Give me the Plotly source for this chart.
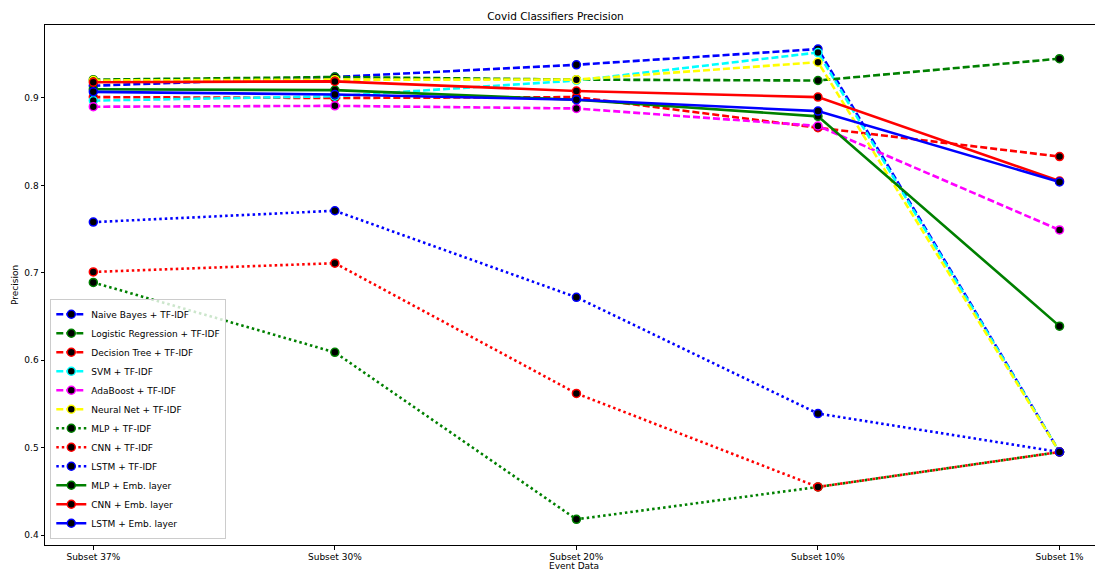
import plotly.graph_objects as go

categories = ["Subset 37%", "Subset 30%", "Subset 20%", "Subset 10%", "Subset 1%"]

naive_bayes_tfidf = [0.914, 0.924, 0.938, 0.956, 0.495]
logreg_tfidf = [0.921, 0.924, 0.921, 0.920, 0.945]
dtree_tfidf = [0.901, 0.900, 0.901, 0.866, 0.833]
svm_tfidf = [0.897, 0.902, 0.920, 0.952, 0.495]
adaboost_tfidf = [0.890, 0.891, 0.888, 0.868, 0.749]
neuralnet_tfidf = [0.920, 0.921, 0.921, 0.941, 0.495]
mlp_tfidf = [0.689, 0.609, 0.418, 0.455, 0.495]
cnn_tfidf = [0.701, 0.711, 0.562, 0.455, 0.495]
lstm_tfidf = [0.758, 0.771, 0.672, 0.539, 0.495]
mlp_emb = [0.910, 0.909, 0.898, 0.879, 0.639]
cnn_emb = [0.918, 0.919, 0.908, 0.901, 0.805]
lstm_emb = [0.907, 0.904, 0.898, 0.885, 0.804]

series = [
    ("Naive Bayes + TF-IDF", naive_bayes_tfidf, "blue", "dash"),
    ("Logistic Regression + TF-IDF", logreg_tfidf, "green", "dash"),
    ("Decision Tree + TF-IDF", dtree_tfidf, "red", "dash"),
    ("SVM + TF-IDF", svm_tfidf, "cyan", "dash"),
    ("AdaBoost + TF-IDF", adaboost_tfidf, "magenta", "dash"),
    ("Neural Net + TF-IDF", neuralnet_tfidf, "yellow", "dash"),
    ("MLP + TF-IDF", mlp_tfidf, "green", "dot"),
    ("CNN + TF-IDF", cnn_tfidf, "red", "dot"),
    ("LSTM + TF-IDF", lstm_tfidf, "blue", "dot"),
    ("MLP + Emb. layer", mlp_emb, "green", "solid"),
    ("CNN + Emb. layer", cnn_emb, "red", "solid"),
    ("LSTM + Emb. layer", lstm_emb, "blue", "solid"),
]

color_map = {"blue": "#0000ff", "green": "#008000", "red": "#ff0000",
             "cyan": "#00ffff", "magenta": "#ff00ff", "yellow": "#ffff00"}
dash_map = {"dash": "7px,3px", "dot": "2.5px,3px", "solid": "solid"}

fig = go.Figure()
x_idx = list(range(len(categories)))
for name, vals, col, style in series:
    c = color_map[col]
    fig.add_trace(go.Scatter(
        x=x_idx, y=vals, name=name, mode="lines+markers",
        line=dict(color=c, width=2.6, dash=dash_map[style]),
        marker=dict(color="black", size=8, line=dict(color=c, width=1.5)),
    ))

# page body has an 8px default margin; figure sized to fill the rest
W, H = 1095, 566
fig.update_layout(
    width=W, height=H,
    margin=dict(l=37, r=0, t=17, b=29, autoexpand=False),
    paper_bgcolor="white", plot_bgcolor="white",
    font=dict(family="DejaVu Sans", size=9, color="black"),
    title=dict(text="Covid Classifiers Precision", x=0.5, xanchor="center",
               y=1 - 8 / H, yanchor="middle", font=dict(size=10.5)),
    showlegend=True,
    legend=dict(x=0.005, y=0.012, xanchor="left", yanchor="bottom",
                bgcolor="rgba(255,255,255,0.8)", bordercolor="#cccccc",
                borderwidth=1, font=dict(size=9), tracegroupgap=0,
                itemwidth=30),
    annotations=[
        dict(text="Event Data", xref="paper", yref="paper", x=0.5, y=-21 / 520,
             xanchor="center", yanchor="middle", showarrow=False,
             font=dict(size=9)),
        dict(text="Precision", xref="paper", yref="paper", x=-30 / 1058, y=0.5,
             xanchor="center", yanchor="middle", showarrow=False, textangle=-90,
             font=dict(size=9)),
    ],
)
fig.update_xaxes(
    tickmode="array", tickvals=x_idx, ticktext=categories, automargin=False,
    range=[-0.2, 4.18], showgrid=False, zeroline=False,
    showline=True, linecolor="black", linewidth=1, mirror=True,
    ticks="outside", ticklen=3.5, tickcolor="black",
)
fig.update_yaxes(
    range=[0.3886, 0.9835], tickvals=[0.4, 0.5, 0.6, 0.7, 0.8, 0.9],
    tickformat=".1f", showgrid=False, zeroline=False, automargin=False,
    showline=True, linecolor="black", linewidth=1, mirror=True,
    ticks="outside", ticklen=3.5, tickcolor="black",
)

fig.write_html("out.html")
